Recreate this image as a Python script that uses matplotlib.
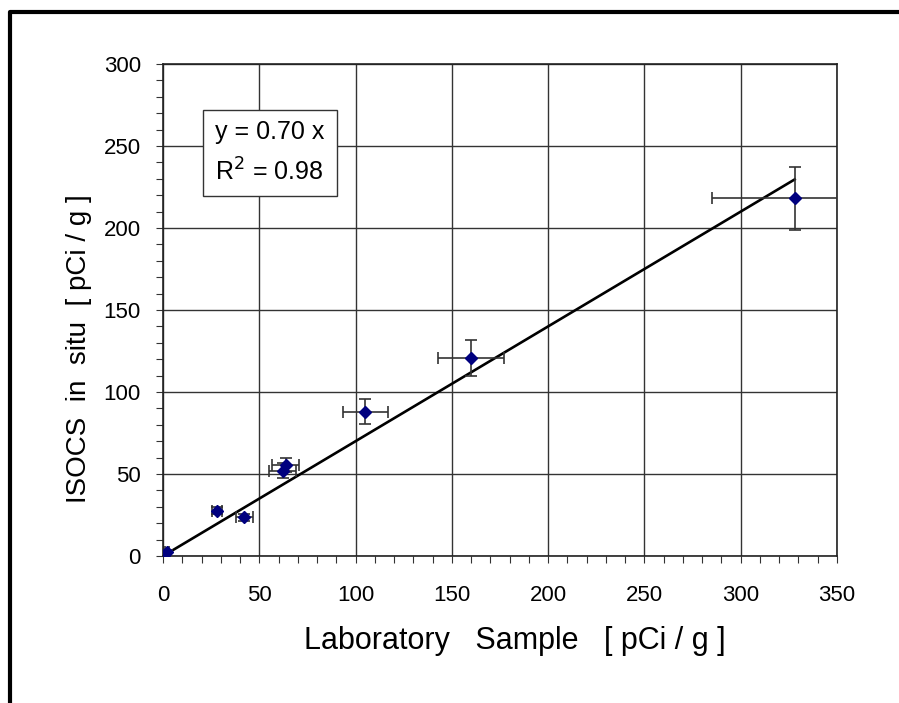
import matplotlib
matplotlib.use("Agg")
import matplotlib.pyplot as plt
from matplotlib.lines import Line2D
from matplotlib.patches import Rectangle
import numpy as np

plt.rcParams['font.family'] = ['Liberation Sans', 'DejaVu Sans']

# Data
lab = [0.5, 2.2, 27.9, 42.2, 62.2, 63.8, 105, 160, 328]
isocs = [0.6, 2.6, 27.6, 23.6, 52, 55.5, 88, 121, 218]
lab_err = [0.5, 1.0, 2.5, 4.5, 7, 7, 11.6, 17, 43]
isocs_err = [0.5, 1.0, 2.2, 2.2, 4.5, 4.5, 7.6, 11, 19]
slope = 0.70
r2 = 0.98
fit_x = [0, 328]
x_ticks = [0, 50, 100, 150, 200, 250, 300, 350]
y_ticks = [0, 50, 100, 150, 200, 250, 300]

W, H = 899, 703
fig = plt.figure(figsize=(W / 100, H / 100), dpi=100)
ax = fig.add_axes([163 / W, 1 - 556 / H, (837 - 163) / W, (556 - 64) / H])

ax.set_xlim(0, 350)
ax.set_ylim(0, 300)
ax.set_xticks(x_ticks)
ax.set_yticks(y_ticks)
ax.set_xticks(np.arange(0, 351, 10), minor=True)
ax.set_yticks(np.arange(0, 301, 10), minor=True)
ax.grid(True, which='major', color='#333333', linewidth=1.0)
ax.set_axisbelow(True)
ax.tick_params(which='both', direction='out', length=5, width=0.8, color='#333333')
ax.tick_params(which='major', labelsize=16)
ax.tick_params(axis='x', which='major', pad=16)
ax.tick_params(axis='y', which='major', pad=11)
for s in ax.spines.values():
    s.set_linewidth(1.2)
    s.set_color('#222222')

fx = np.array(fit_x)
ax.plot(fx, slope * fx, color='black', linewidth=1.9, zorder=3)

ax.errorbar(lab, isocs, xerr=lab_err, yerr=isocs_err, fmt='D', color='#00007F',
            markersize=6.5, ecolor='#333333', elinewidth=1.2, capsize=4.5,
            capthick=1.2, zorder=4)

ax.set_xlabel('Laboratory   Sample   [ pCi / g ]', fontsize=22)
ax.xaxis.set_label_coords((515 - 163) / 674, -(626 - 556) / 492)
ax.set_ylabel('ISOCS  in  situ  [ pCi / g ]', fontsize=20)
ax.yaxis.set_label_coords((92 - 163) / 674, (556 - 349) / 492)

# Equation box
bx0, bx1 = (203 - 163) / 674, (337 - 163) / 674
by0, by1 = (556 - 196) / 492, (556 - 110) / 492
ax.add_patch(Rectangle((bx0, by0), bx1 - bx0, by1 - by0, transform=ax.transAxes,
                       facecolor='white', edgecolor='#333333', linewidth=1.0,
                       zorder=5))
ax.text((215 - 163) / 674, (556 - 132) / 492, 'y = 0.70 x', transform=ax.transAxes,
        fontsize=18, va='center', ha='left', zorder=6)
ax.text((215 - 163) / 674, (556 - 172) / 492, 'R$^2$ = 0.98', transform=ax.transAxes,
        fontsize=18, va='center', ha='left', zorder=6)

# Outer frame (cut at right and bottom)
fig.add_artist(Line2D([10 / W, 10 / W, 1.0], [0.0, 1 - 12 / H, 1 - 12 / H],
                      transform=fig.transFigure, color='black', linewidth=3))

fig.savefig('out.png', dpi=100)
